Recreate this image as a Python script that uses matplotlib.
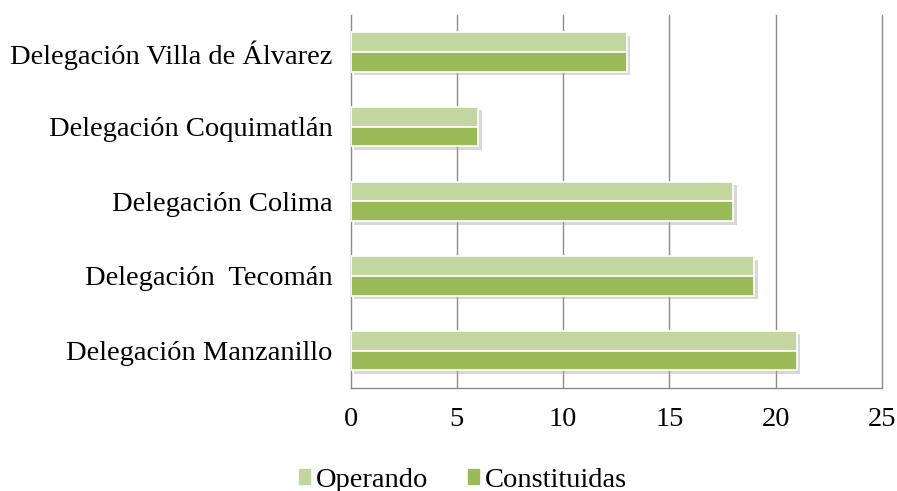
import numpy as np
import matplotlib.pyplot as plt
import matplotlib.patheffects as pe
from matplotlib.patches import Patch

# Data
categories = ['Delegación Manzanillo', 'Delegación  Tecomán', 'Delegación Colima',
              'Delegación Coquimatlán', 'Delegación Villa de Álvarez']
operando = [21, 19, 18, 6, 13]
constituidas = [21, 19, 18, 6, 13]

colorOperando = '#c4d6a0'
colorConstituidas = '#9bbb59'
gridColor = '#8c8c8c'

plt.rcParams['font.family'] = ['Liberation Serif', 'DejaVu Serif']

fig = plt.figure(figsize=(8.97, 4.91), dpi=100)
ax = fig.add_axes([0.391, 0.21, 0.592, 0.76])

y = np.arange(len(categories))
h = 0.265

shadow = [pe.SimplePatchShadow(offset=(2.5, -2.5), shadow_rgbFace='#aaaaaa', alpha=0.45), pe.Normal()]
ax.barh(y + h / 2, operando, height=h, color=colorOperando, edgecolor='white',
        linewidth=1.2, path_effects=shadow, zorder=3)
ax.barh(y - h / 2, constituidas, height=h, color=colorConstituidas, edgecolor='white',
        linewidth=1.2, path_effects=shadow, zorder=3)

ax.set_xlim(0, 25)
ax.set_ylim(-0.5, len(categories) - 0.5)
ax.set_xticks(range(0, 26, 5))
ax.set_yticks(y)
ax.set_yticklabels(categories)
ax.tick_params(axis='y', length=0, labelsize=20.5, pad=13)
ax.tick_params(axis='x', length=0, labelsize=20.5, pad=14)

for xv in range(5, 26, 5):
    ax.axvline(xv, color=gridColor, linewidth=1, zorder=0, clip_on=False)
for s in ['top', 'right']:
    ax.spines[s].set_visible(False)
for s in ['left', 'bottom']:
    ax.spines[s].set_color(gridColor)
    ax.spines[s].set_linewidth(1)

handles = [Patch(color=colorOperando, label='Operando'),
           Patch(color=colorConstituidas, label='Constituidas')]
fig.legend(handles=handles, loc='center', bbox_to_anchor=(0.516, 0.022), ncol=2, frameon=False,
           fontsize=20.5, handlelength=0.4, handleheight=0.4, handletextpad=0.2, columnspacing=1.4)

plt.savefig('out.png', dpi=100)
plt.close()
